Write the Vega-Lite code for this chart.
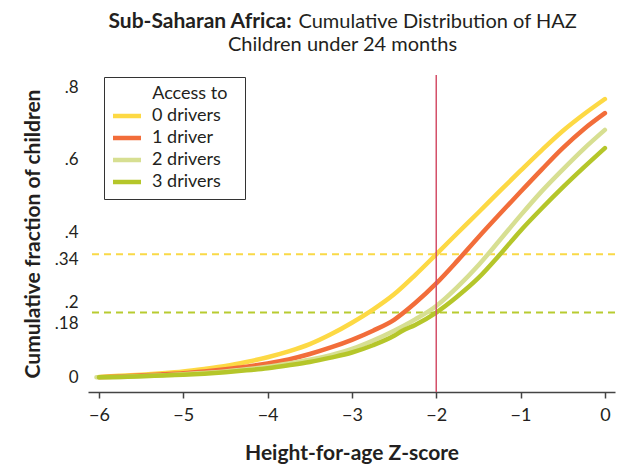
{
  "$schema": "https://vega.github.io/schema/vega-lite/v6.json",
  "width": 527,
  "height": 317,
  "autosize": {"type": "none"},
  "padding": {"left": 88, "top": 75, "right": 4, "bottom": 74},
  "background": "white",
  "config": {
    "font": "Lato",
    "view": {"stroke": null},
    "axis": {"grid": false, "labelColor": "#231f20", "titleColor": "#231f20", "labelFont": "Lato", "titleFont": "Lato"}
  },
  "title": {
    "text": "Children under 24 months",
    "fontSize": 20,
    "fontWeight": "normal",
    "color": "#231f20",
    "anchor": "middle",
    "dx": -9,
    "dy": 45,
    "offset": 0
  },
  "datasets": {
    "curves": [
      {"z": -6, "F": 0.003, "group": "0 drivers"},
      {"z": -5.75, "F": 0.006, "group": "0 drivers"},
      {"z": -5.5, "F": 0.009, "group": "0 drivers"},
      {"z": -5.25, "F": 0.013, "group": "0 drivers"},
      {"z": -5, "F": 0.018, "group": "0 drivers"},
      {"z": -4.75, "F": 0.025, "group": "0 drivers"},
      {"z": -4.5, "F": 0.033, "group": "0 drivers"},
      {"z": -4.25, "F": 0.044, "group": "0 drivers"},
      {"z": -4, "F": 0.057, "group": "0 drivers"},
      {"z": -3.75, "F": 0.073, "group": "0 drivers"},
      {"z": -3.5, "F": 0.093, "group": "0 drivers"},
      {"z": -3.25, "F": 0.12, "group": "0 drivers"},
      {"z": -3, "F": 0.152, "group": "0 drivers"},
      {"z": -2.75, "F": 0.188, "group": "0 drivers"},
      {"z": -2.5, "F": 0.23, "group": "0 drivers"},
      {"z": -2.25, "F": 0.283, "group": "0 drivers"},
      {"z": -2, "F": 0.34, "group": "0 drivers"},
      {"z": -1.75, "F": 0.398, "group": "0 drivers"},
      {"z": -1.5, "F": 0.455, "group": "0 drivers"},
      {"z": -1.25, "F": 0.513, "group": "0 drivers"},
      {"z": -1, "F": 0.57, "group": "0 drivers"},
      {"z": -0.75, "F": 0.626, "group": "0 drivers"},
      {"z": -0.5, "F": 0.679, "group": "0 drivers"},
      {"z": -0.25, "F": 0.725, "group": "0 drivers"},
      {"z": 0, "F": 0.767, "group": "0 drivers"},
      {"z": -6, "F": 0.002, "group": "1 driver"},
      {"z": -5.75, "F": 0.004, "group": "1 driver"},
      {"z": -5.5, "F": 0.007, "group": "1 driver"},
      {"z": -5.25, "F": 0.01, "group": "1 driver"},
      {"z": -5, "F": 0.013, "group": "1 driver"},
      {"z": -4.75, "F": 0.018, "group": "1 driver"},
      {"z": -4.5, "F": 0.024, "group": "1 driver"},
      {"z": -4.25, "F": 0.031, "group": "1 driver"},
      {"z": -4, "F": 0.04, "group": "1 driver"},
      {"z": -3.75, "F": 0.051, "group": "1 driver"},
      {"z": -3.5, "F": 0.066, "group": "1 driver"},
      {"z": -3.25, "F": 0.084, "group": "1 driver"},
      {"z": -3, "F": 0.105, "group": "1 driver"},
      {"z": -2.75, "F": 0.13, "group": "1 driver"},
      {"z": -2.5, "F": 0.16, "group": "1 driver"},
      {"z": -2.25, "F": 0.206, "group": "1 driver"},
      {"z": -2, "F": 0.26, "group": "1 driver"},
      {"z": -1.75, "F": 0.322, "group": "1 driver"},
      {"z": -1.5, "F": 0.387, "group": "1 driver"},
      {"z": -1.25, "F": 0.45, "group": "1 driver"},
      {"z": -1, "F": 0.512, "group": "1 driver"},
      {"z": -0.75, "F": 0.573, "group": "1 driver"},
      {"z": -0.5, "F": 0.632, "group": "1 driver"},
      {"z": -0.25, "F": 0.684, "group": "1 driver"},
      {"z": 0, "F": 0.728, "group": "1 driver"},
      {"z": -6.03, "F": 0.002, "group": "2 drivers"},
      {"z": -5.75, "F": 0.003, "group": "2 drivers"},
      {"z": -5.5, "F": 0.005, "group": "2 drivers"},
      {"z": -5.25, "F": 0.007, "group": "2 drivers"},
      {"z": -5, "F": 0.01, "group": "2 drivers"},
      {"z": -4.75, "F": 0.014, "group": "2 drivers"},
      {"z": -4.5, "F": 0.018, "group": "2 drivers"},
      {"z": -4.25, "F": 0.024, "group": "2 drivers"},
      {"z": -4, "F": 0.031, "group": "2 drivers"},
      {"z": -3.75, "F": 0.04, "group": "2 drivers"},
      {"z": -3.5, "F": 0.05, "group": "2 drivers"},
      {"z": -3.25, "F": 0.063, "group": "2 drivers"},
      {"z": -3, "F": 0.08, "group": "2 drivers"},
      {"z": -2.75, "F": 0.103, "group": "2 drivers"},
      {"z": -2.5, "F": 0.13, "group": "2 drivers"},
      {"z": -2.25, "F": 0.161, "group": "2 drivers"},
      {"z": -2, "F": 0.198, "group": "2 drivers"},
      {"z": -1.75, "F": 0.25, "group": "2 drivers"},
      {"z": -1.5, "F": 0.31, "group": "2 drivers"},
      {"z": -1.25, "F": 0.378, "group": "2 drivers"},
      {"z": -1, "F": 0.447, "group": "2 drivers"},
      {"z": -0.75, "F": 0.513, "group": "2 drivers"},
      {"z": -0.5, "F": 0.573, "group": "2 drivers"},
      {"z": -0.25, "F": 0.63, "group": "2 drivers"},
      {"z": 0, "F": 0.682, "group": "2 drivers"},
      {"z": -6, "F": 0.002, "group": "3 drivers"},
      {"z": -5.75, "F": 0.003, "group": "3 drivers"},
      {"z": -5.5, "F": 0.005, "group": "3 drivers"},
      {"z": -5.25, "F": 0.007, "group": "3 drivers"},
      {"z": -5, "F": 0.009, "group": "3 drivers"},
      {"z": -4.75, "F": 0.012, "group": "3 drivers"},
      {"z": -4.5, "F": 0.016, "group": "3 drivers"},
      {"z": -4.25, "F": 0.021, "group": "3 drivers"},
      {"z": -4, "F": 0.027, "group": "3 drivers"},
      {"z": -3.75, "F": 0.035, "group": "3 drivers"},
      {"z": -3.5, "F": 0.044, "group": "3 drivers"},
      {"z": -3.25, "F": 0.056, "group": "3 drivers"},
      {"z": -3, "F": 0.07, "group": "3 drivers"},
      {"z": -2.75, "F": 0.09, "group": "3 drivers"},
      {"z": -2.5, "F": 0.116, "group": "3 drivers"},
      {"z": -2.4, "F": 0.13, "group": "3 drivers"},
      {"z": -2.25, "F": 0.146, "group": "3 drivers"},
      {"z": -2, "F": 0.18, "group": "3 drivers"},
      {"z": -1.75, "F": 0.224, "group": "3 drivers"},
      {"z": -1.5, "F": 0.275, "group": "3 drivers"},
      {"z": -1.25, "F": 0.338, "group": "3 drivers"},
      {"z": -1, "F": 0.405, "group": "3 drivers"},
      {"z": -0.75, "F": 0.466, "group": "3 drivers"},
      {"z": -0.5, "F": 0.524, "group": "3 drivers"},
      {"z": -0.25, "F": 0.579, "group": "3 drivers"},
      {"z": 0, "F": 0.632, "group": "3 drivers"}
    ],
    "refs": [
      {"level": 0.34, "series": "0 drivers"},
      {"level": 0.18, "series": "3 drivers"}
    ],
    "cutoff": [{"z": -2}]
  },
  "layer": [
    {
      "data": {"name": "refs"},
      "mark": {"type": "rule", "strokeWidth": 2, "strokeDash": [7, 5]},
      "encoding": {
        "y": {
          "field": "level", "type": "quantitative",
          "scale": {"domain": [-0.0385, 0.833], "nice": false, "zero": false},
          "axis": {"orient": "right", "labels": false, "ticks": false, "domain": false,
                   "title": "Cumulative Distribution of HAZ", "titleAngle": 0, "titleAlign": "left",
                   "titleBaseline": "alphabetic", "titleX": -317, "titleY": -48,
                   "titleFontSize": 20, "titleFontWeight": "normal"}
        },
        "stroke": {
          "field": "series", "type": "nominal",
          "scale": {"domain": ["0 drivers", "3 drivers"], "range": ["#F9D947", "#B8CB30"]},
          "legend": null
        }
      }
    },
    {
      "data": {"name": "curves"},
      "mark": {"type": "line", "strokeWidth": 4.5, "strokeCap": "round", "strokeJoin": "round", "interpolate": "monotone"},
      "encoding": {
        "x": {
          "field": "z", "type": "quantitative",
          "scale": {"domain": [-6.13, 0.12], "nice": false, "zero": false},
          "axis": {"orient": "bottom", "values": [-6, -5, -4, -3, -2, -1, 0], "tickSize": 6,
                   "tickColor": "#444", "domainColor": "#444", "domainWidth": 1.5, "tickWidth": 1.5,
                   "labelFontSize": 18, "labelPadding": 8,
                   "title": "Height-for-age Z-score", "titleFontSize": 21, "titleFontWeight": "bold", "titlePadding": 18}
        },
        "y": {
          "field": "F", "type": "quantitative",
          "scale": {"domain": [-0.0385, 0.833], "nice": false, "zero": false},
          "axis": {"orient": "left", "values": [0, 0.18, 0.2, 0.34, 0.4, 0.6, 0.8],
                   "labelExpr": "datum.value == 0 ? '0' : replace(format(datum.value, '.2~f'), '0.', '.')",
                   "ticks": false, "tickSize": 0, "domain": false, "labelPadding": 10,
                   "labelFontSize": 17, "labelOverlap": false, "labelBound": false,
                   "labelOffset": {"condition": [
                     {"test": "datum.value == 0.18", "value": 11},
                     {"test": "datum.value == 0.2", "value": -3},
                     {"test": "datum.value == 0.34", "value": 5}
                   ], "value": 0},
                   "title": "Cumulative fraction of children", "titleFontSize": 21, "titleFontWeight": "bold", "titlePadding": 11}
        },
        "color": {
          "field": "group", "type": "nominal",
          "scale": {"domain": ["0 drivers", "1 driver", "2 drivers", "3 drivers"],
                    "range": ["#FDD944", "#F26D3A", "#D7DF92", "#B5C62A"]},
          "legend": {
            "orient": "none", "legendX": 16, "legendY": 2,
            "title": "\u200b\u2003\u2003\u00a0\u00a0\u00a0Access to\u00a0\u00a0\u200b",
            "titleFontSize": 18, "titleFontWeight": "normal", "titleColor": "#231f20", "titlePadding": 4,
            "labelFontSize": 18, "labelColor": "#231f20", "labelOffset": 16,
            "symbolType": "M-2.8,0H2.8", "symbolSize": 100, "symbolStrokeWidth": 4.5, "symbolOffset": 6,
            "strokeColor": "#333", "fillColor": "white", "padding": 8, "rowPadding": 4
          }
        }
      }
    },
    {
      "data": {"name": "cutoff"},
      "mark": {"type": "rule", "color": "#D44F69", "strokeWidth": 1.5},
      "encoding": {
        "x": {
          "field": "z", "type": "quantitative",
          "axis": {"orient": "top", "labels": false, "ticks": false, "domain": false,
                   "title": "Sub-Saharan Africa:", "titleAlign": "left", "titleBaseline": "alphabetic",
                   "titleX": 20, "titleY": -48, "titleFontSize": 21, "titleFontWeight": "bold"}
        }
      }
    }
  ],
  "resolve": {"axis": {"x": "independent", "y": "independent"}}
}
